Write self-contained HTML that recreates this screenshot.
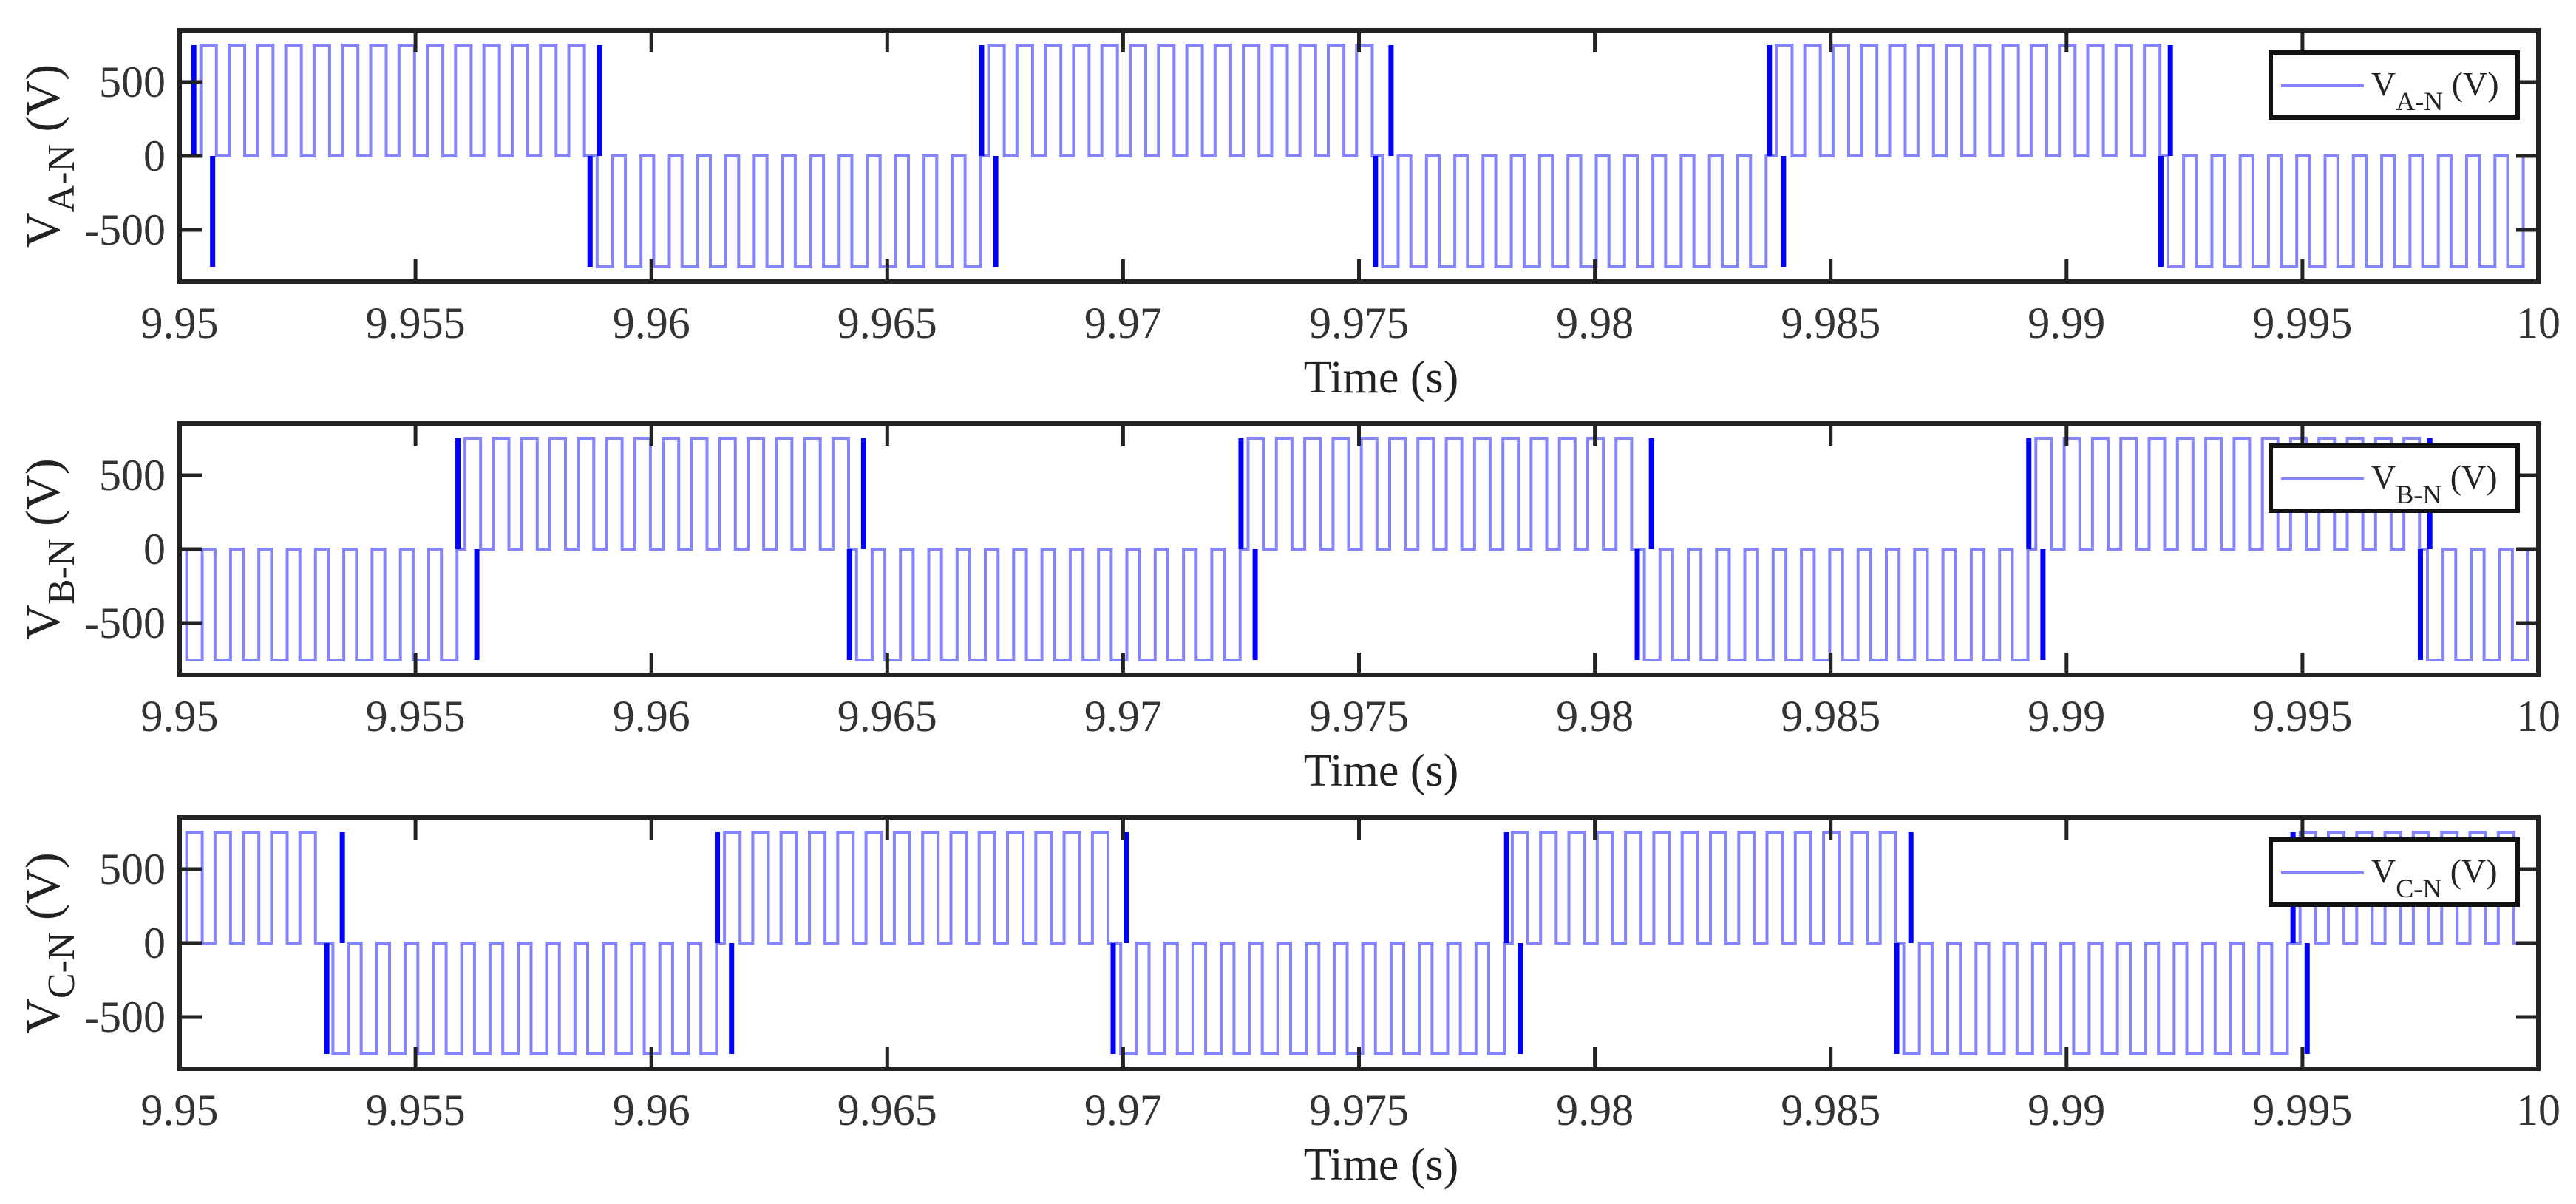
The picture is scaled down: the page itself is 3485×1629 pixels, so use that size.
<!DOCTYPE html>
<html><head><meta charset="utf-8"><style>
html,body{margin:0;padding:0;background:#fff;}
svg{display:block;font-family:"Liberation Serif",serif;}
</style></head><body>
<svg id="chart" width="3485" height="1629" viewBox="0 0 3485 1629" xmlns="http://www.w3.org/2000/svg"></svg>
<script>
// ---- data ----
const xTickValues = [9.95, 9.955, 9.96, 9.965, 9.97, 9.975, 9.98, 9.985, 9.99, 9.995, 10];
const xTickLabels = ["9.95", "9.955", "9.96", "9.965", "9.97", "9.975", "9.98", "9.985", "9.99", "9.995", "10"];
const yTickValues = [-500, 0, 500];
const yTickLabels = ["-500", "0", "500"];
const phaseNames = ["A-N", "B-N", "C-N"];
const dcLevel = 750;
const carrierPeriod = 0.0006;
const pulseDuty = 0.55;
// zero-crossing times per phase and sign at t = 9.95
const crossA = [9.9503, 9.9587, 9.9670, 9.97535, 9.9837, 9.9920];
const crossB = [9.9559, 9.9642, 9.9725, 9.9809, 9.9892, 9.9975];
const crossC = [9.9531, 9.9614, 9.9698, 9.9781, 9.9864, 9.9948];
const startSign = [-1, -1, 1];
// narrow transition spikes [time, value]
const spikeTimesA = [9.9503, 9.9507, 9.9587, 9.9589, 9.9670, 9.9673, 9.97535, 9.97568, 9.9837, 9.9840, 9.9920, 9.9922];
const spikeValsA = [750, -750, -750, 750, 750, -750, -750, 750, 750, -750, -750, 750];
const spikeTimesB = [9.9559, 9.9563, 9.9642, 9.9645, 9.9725, 9.9728, 9.9809, 9.9812, 9.9892, 9.9895, 9.9975, 9.9977];
const spikeValsB = [750, -750, -750, 750, 750, -750, -750, 750, 750, -750, -750, 750];
const spikeTimesC = [9.95312, 9.95345, 9.9614, 9.9617, 9.96979, 9.97007, 9.97813, 9.97842, 9.9864, 9.9867, 9.9948, 9.9951];
const spikeValsC = [-750, 750, 750, -750, -750, 750, 750, -750, -750, 750, 750, -750];

const crosses = [crossA, crossB, crossC];
const spikeTimes = [spikeTimesA, spikeTimesB, spikeTimesC];
const spikeVals = [spikeValsA, spikeValsB, spikeValsC];

// ---- layout ----
const NS = "http://www.w3.org/2000/svg";
const svg = document.getElementById("chart");
const L = 243, R = 3434;
const panelTops = [41, 573, 1106];
const PH = 340;
const xMin = 9.95, xMax = 10, yMin = -850, yMax = 850;
function xs(t){ return L + (t - xMin) / (xMax - xMin) * (R - L); }
function mk(tag, attrs, parent){
  const e = document.createElementNS(NS, tag);
  for (const k in attrs) e.setAttribute(k, attrs[k]);
  (parent || svg).appendChild(e);
  return e;
}

phaseNames.forEach((pn, i) => {
  const top = panelTops[i], bot = top + PH;
  const ys = v => top + (yMax - v) / (yMax - yMin) * PH;
  const g = mk("g", {});
  
  

  const cp = mk("clipPath", {id: "clip" + i}, g);
  mk("rect", {x: L, y: top, width: R - L, height: PH}, cp);

  const cr = crosses[i];
  const bounds = [xMin].concat(cr).concat([xMax]);
  let sign = startSign[i];
  let d = "M" + xs(xMin).toFixed(1) + "," + ys(0).toFixed(1);
  for (let k = 0; k < bounds.length - 1; k++) {
    const a = bounds[k], b = bounds[k + 1];
    const w = carrierPeriod * pulseDuty;
    for (let t = a + 0.00015; t + w < b; t += carrierPeriod) {
      d += " L" + xs(t).toFixed(1) + "," + ys(0).toFixed(1);
      d += " L" + xs(t).toFixed(1) + "," + ys(sign * dcLevel).toFixed(1);
      d += " L" + xs(t + w).toFixed(1) + "," + ys(sign * dcLevel).toFixed(1);
      d += " L" + xs(t + w).toFixed(1) + "," + ys(0).toFixed(1);
    }
    sign = -sign;
  }
  d += " L" + xs(xMax).toFixed(1) + "," + ys(0).toFixed(1);
  const wave = mk("path", {d: d, fill: "none", stroke: "#8484ff", "stroke-width": 4, "clip-path": "url(#clip" + i + ")"}, g);
  
  

  spikeTimes[i].forEach((st, k) => {
    const sp = mk("line", {x1: xs(st), x2: xs(st), y1: ys(0), y2: ys(spikeVals[i][k]), stroke: "#0000ff", "stroke-width": 7, "clip-path": "url(#clip" + i + ")"}, g);
    
    
  });

  xTickValues.forEach((tv, k) => {
    const x = xs(tv);
    mk("line", {x1: x, x2: x, y1: bot, y2: bot - 30, stroke: "#222", "stroke-width": 5}, g);
    mk("line", {x1: x, x2: x, y1: top, y2: top + 30, stroke: "#222", "stroke-width": 5}, g);
    const tl = mk("text", {x: x, y: bot + 76, "font-size": 60, "text-anchor": "middle", fill: "#333"}, g);
    tl.textContent = xTickLabels[k];
    
    
  });
  yTickValues.forEach((yv, k) => {
    const y = ys(yv);
    mk("line", {x1: L, x2: L + 30, y1: y, y2: y, stroke: "#222", "stroke-width": 5}, g);
    mk("line", {x1: R, x2: R - 30, y1: y, y2: y, stroke: "#222", "stroke-width": 5}, g);
    const tl = mk("text", {x: 224, y: y + 20, "font-size": 60, "text-anchor": "end", fill: "#333"}, g);
    tl.textContent = yTickLabels[k];
    
    
  });

  const box = mk("rect", {x: L, y: top, width: R - L, height: PH, fill: "none", stroke: "#222", "stroke-width": 6}, g);
  
  

  const xl = mk("text", {x: (L + R) / 2 + 30, y: bot + 150, "font-size": 62, "text-anchor": "middle", fill: "#222"}, g);
  xl.textContent = "Time (s)";
  
  

  const cy = top + PH / 2;
  const yl = mk("text", {transform: "translate(80," + cy + ") rotate(-90)", "font-size": 66, "text-anchor": "middle", fill: "#222"}, g);
  
  
  const t1 = mk("tspan", {}, yl); t1.textContent = "V";
  const t2 = mk("tspan", {dy: 20, "font-size": 52}, yl); t2.textContent = pn;
  const t3 = mk("tspan", {dy: -20}, yl); t3.textContent = " (V)";

  const lg = mk("g", {}, g);
  
  
  mk("rect", {x: 3072, y: top + 30, width: 334, height: 88, fill: "#fff", stroke: "#111", "stroke-width": 6}, lg);
  const ll = mk("line", {x1: 3086, x2: 3198, y1: top + 75, y2: top + 75, stroke: "#8484ff", "stroke-width": 4}, lg);
  
  
  const lt = mk("text", {x: 3208, y: top + 88, "font-size": 46, fill: "#222"}, lg);
  
  
  const a1 = mk("tspan", {}, lt); a1.textContent = "V";
  const a2 = mk("tspan", {dy: 20, "font-size": 36}, lt); a2.textContent = pn;
  const a3 = mk("tspan", {dy: -20}, lt); a3.textContent = " (V)";
});
</script>
</body></html>
